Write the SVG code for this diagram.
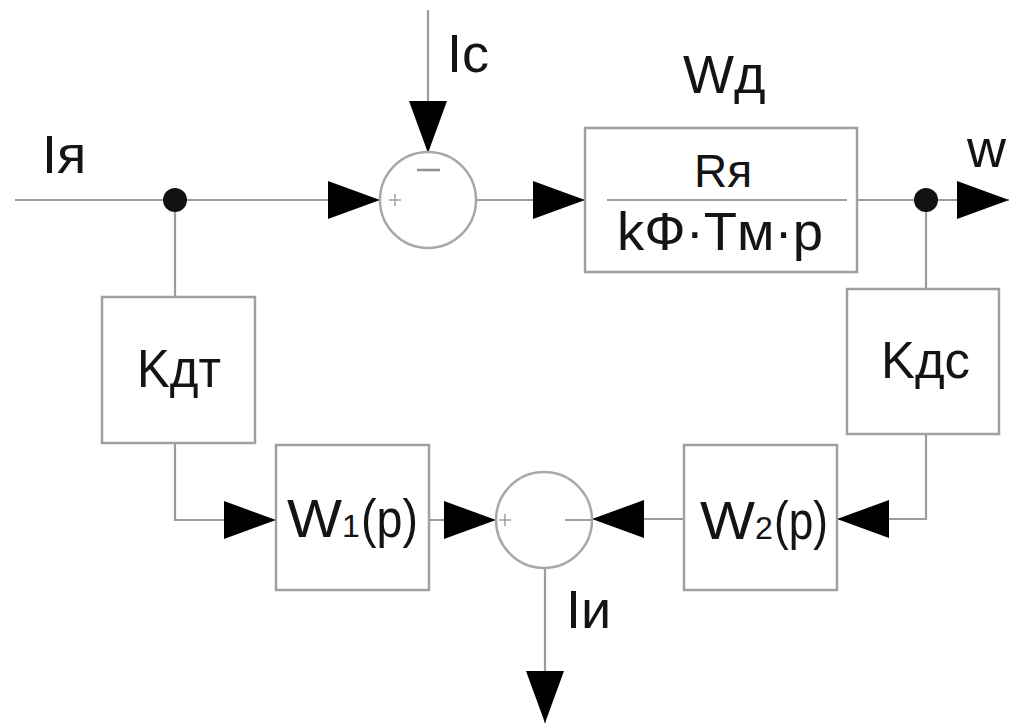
<svg xmlns="http://www.w3.org/2000/svg" width="1009" height="724" viewBox="0 0 1009 724">
<defs>
<style>
.ln{fill:none;stroke:#9c9c9c;stroke-width:2.2}
.bx{fill:#fff;stroke:#a0a0a0;stroke-width:2.5}
.sj{fill:#fff;stroke:#a8a8a8;stroke-width:2.5}
.sg{stroke:#a0a0a0;stroke-width:1.5;fill:none}
.t{font-family:"Liberation Sans",Arial,sans-serif;fill:#141414}
.dot{fill:#111}
</style>
<marker id="ah" markerUnits="userSpaceOnUse" markerWidth="52" markerHeight="38" refX="52" refY="19" orient="auto" viewBox="0 0 52 38">
<path d="M0,0 L52,19 L0,38 Z" fill="#000"/>
</marker>
</defs>
<rect width="1009" height="724" fill="#fff"/>
<g id="connectors">
<path class="ln" d="M15,200 H380" marker-end="url(#ah)"/>
<path class="ln" d="M428,10 V153" marker-end="url(#ah)"/>
<path class="ln" d="M476,200 H585" marker-end="url(#ah)"/>
<path class="ln" d="M857,200 H1009" marker-end="url(#ah)"/>
<path class="ln" d="M926,200 V289"/>
<path class="ln" d="M926,434 V519 H837" marker-end="url(#ah)"/>
<path class="ln" d="M684,519 H592" marker-end="url(#ah)"/>
<path class="ln" d="M175,200 V297"/>
<path class="ln" d="M175,443 V520 H276" marker-end="url(#ah)"/>
<path class="ln" d="M429,520 H496" marker-end="url(#ah)"/>
<path class="ln" d="M545,568 V723" marker-end="url(#ah)"/>
<circle class="dot" cx="175" cy="200" r="12"/>
<circle class="dot" cx="926" cy="200" r="12"/>
</g>
<g id="label-Ia"><text class="t" x="42" y="173" font-size="54">Iя</text></g>
<g id="label-Ic"><text class="t" x="447" y="72" font-size="54">Ic</text></g>
<g id="label-Wd"><text class="t" x="683" y="93" font-size="54">Wд</text></g>
<g id="label-w"><text class="t" x="967" y="167" font-size="54">w</text></g>
<g id="label-Ii"><text class="t" x="566" y="628" font-size="54">Iи</text></g>
<g id="sum1">
<circle class="sj" cx="428" cy="200" r="48"/>
<path class="sg" d="M389,200 H401 M395,194 V206"/>
<path d="M417,170 H440" stroke="#909090" stroke-width="2.5"/>
</g>
<g id="sum2">
<circle class="sj" cx="544" cy="520" r="48"/>
<path class="sg" d="M499,520 H511 M505,514 V526"/>
<path d="M565,520 H592" stroke="#a0a0a0" stroke-width="2"/>
</g>
<g id="Wd">
<rect class="bx" x="585" y="128" width="272" height="144"/>
<path d="M607,200 H847" stroke="#a0a0a0" stroke-width="2"/>
<text class="t" x="723" y="187" font-size="46" text-anchor="middle">Rя</text>
<text class="t" x="617" y="250" font-size="54" textLength="206" lengthAdjust="spacingAndGlyphs">kФ·Tм·p</text>
</g>
<g id="Kdt">
<rect class="bx" x="102" y="297" width="153" height="146"/>
<text class="t" x="137" y="387" font-size="53" textLength="84" lengthAdjust="spacingAndGlyphs">Kдт</text>
</g>
<g id="Kdc">
<rect class="bx" x="847" y="289" width="152" height="145"/>
<text class="t" x="881" y="378" font-size="52" textLength="89" lengthAdjust="spacingAndGlyphs">Kдс</text>
</g>
<g id="W1">
<rect class="bx" x="276" y="445" width="153" height="145"/>
<text class="t" x="287" y="537" font-size="54" textLength="55" lengthAdjust="spacingAndGlyphs">W</text>
<text class="t" x="342" y="537" font-size="32">1</text>
<text class="t" x="361" y="537" font-size="54" textLength="57" lengthAdjust="spacingAndGlyphs">(p)</text>
</g>
<g id="W2">
<rect class="bx" x="684" y="445" width="153" height="145"/>
<text class="t" x="700" y="539" font-size="54" textLength="55" lengthAdjust="spacingAndGlyphs">W</text>
<text class="t" x="755" y="539" font-size="32">2</text>
<text class="t" x="774" y="539" font-size="54" textLength="54" lengthAdjust="spacingAndGlyphs">(p)</text>
</g>
</svg>
